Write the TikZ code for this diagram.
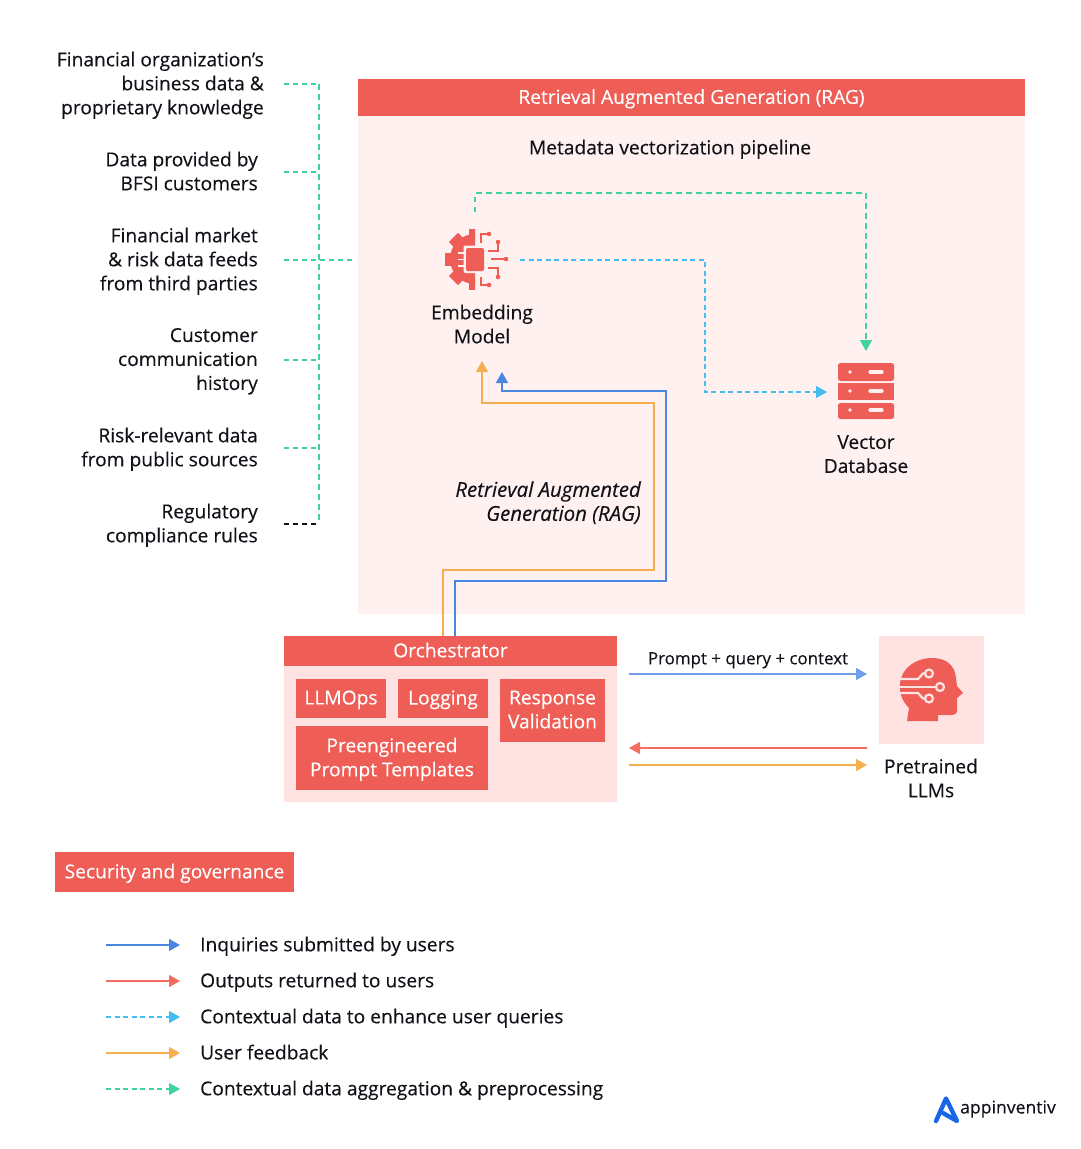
\documentclass[tikz,border=0pt]{standalone}
\usepackage{fontspec}
\setmainfont{Open Sans}[FakeBold=0.25]
\usepackage{xcolor}
\usetikzlibrary{calc}
\usetikzlibrary{positioning}
\usetikzlibrary{arrows.meta}
\definecolor{redmain}{HTML}{EF5D57}
\definecolor{palepanel}{HTML}{FFF1F0}
\definecolor{palebox}{HTML}{FFE3E2}
\definecolor{greenline}{HTML}{3FD3A0}
\definecolor{cyanline}{HTML}{45BDF0}
\definecolor{blueline}{HTML}{4A86E0}
\definecolor{lightblue}{HTML}{6F9FE8}
\definecolor{orangeline}{HTML}{F5AE50}
\definecolor{coralline}{HTML}{F56C60}
\definecolor{inkcol}{HTML}{111118}
\definecolor{logoblue}{HTML}{1A66E8}
\begin{document}
\begin{tikzpicture}[x=1pt,y=-1pt,
      font=\fontsize{19.2}{24}\selectfont,text=inkcol,
      every node/.append style={text depth=2pt},
      src style/.style={align=right,inner sep=0pt,anchor=east},
      lab style/.style={align=center,inner sep=0pt},
      block style/.style={fill=redmain,text=white,align=center,inner sep=0pt,outer sep=0pt,anchor=north west},
      panel style/.style={fill=#1,inner sep=0pt,anchor=north west},
      key style/.style={inner sep=0pt,anchor=west},
      greendash/.style={draw=greenline,line width=1.5pt,dash pattern=on 5pt off 4pt},
      cyandash/.style={draw=cyanline,line width=1.4pt,dash pattern=on 5pt off 3.5pt},
      tip style/.style={-{Triangle[length=11pt,width=12pt]}}
      ]
      \useasboundingbox (0,0) rectangle (1080,1149);
      \node[panel style=palepanel,minimum width=667pt,minimum height=535pt] (ragpanel) at (358,79) {};
      \node[block style,minimum width=667pt,minimum height=37pt] (raghead) at (358,79) {Retrieval Augmented Generation (RAG)};
      \node[lab style] (pipeline) at (670,148) {Metadata vectorization pipeline};
      \node[src style] (srcorg) at (264,84) {Financial organization's\\business data \&\\proprietary knowledge};
      \node[src style] (srcbfsi) at (258,172) {Data provided by\\BFSI customers};
      \node[src style] (srcfeeds) at (258,260) {Financial market\\\& risk data feeds\\from third parties};
      \node[src style] (srccomm) at (258,360) {Customer\\communication\\history};
      \node[src style] (srcrisk) at (258,448) {Risk-relevant data\\from public sources};
      \node[src style] (srcrules) at (258,524) {Regulatory\\compliance rules};
      \coordinate (bustop) at (319,84);
      \coordinate (busbfsi) at (319,172);
      \coordinate (busfeeds) at (319,260);
      \coordinate (buscomm) at (319,360);
      \coordinate (busrisk) at (319,448);
      \coordinate (busend) at (319,524);
      \coordinate (ragin) at (356,260);
      \draw[greendash,dash pattern=on 5.5pt off 4.5pt] (bustop) -- (busend);
      \draw[greendash,shorten <=20pt] (srcorg.east |- bustop) -- (bustop);
      \draw[greendash,shorten <=26pt] (srcbfsi.east |- busbfsi) -- (busbfsi);
      \draw[greendash,shorten <=26pt] (srcfeeds.east |- ragin) -- (ragin);
      \draw[greendash,shorten <=26pt] (srccomm.east |- buscomm) -- (buscomm);
      \draw[greendash,shorten <=26pt] (srcrisk.east |- busrisk) -- (busrisk);
      \draw[greendash,draw=inkcol,shorten <=26pt] (srcrules.east |- busend) -- (busend);
      % embedding icon
      \coordinate (gearc) at (475,259);
      \begin{scope}
        \clip (440,225) rectangle (475,295);
        \fill[redmain] (gearc) circle (25);
        \foreach \a in {90,135,180,225,270}
          \fill[redmain,rotate around={\a:(gearc)}] ($(gearc)+(20,-6.5)$) rectangle ($(gearc)+(30.5,6.5)$);
      \end{scope}
      \fill[palepanel,rounded corners=2pt] (463.5,245.5) rectangle (486,273);
      \fill[redmain,rounded corners=1.5pt] (466,248) rectangle (484,271);
      \foreach \py in {253,259.5,266}
        \draw[palepanel,line width=1.3pt] (458,\py) -- (465,\py);
      \begin{scope}[draw=redmain,line width=1.2pt]
        \draw (481,243) -- (481,234) -- (489,234);
        \draw (488,251) -- (498,251) -- (498,242);
        \draw (491,259) -- (506,259);
        \draw (488,268) -- (498,268) -- (498,277);
        \draw (481,277) -- (481,285) -- (489,285);
      \end{scope}
      \foreach \dx/\dy in {489/234,498/242,506/259,498/277,489/285}
        \fill[redmain] (\dx,\dy) circle (2.3);
      \node[lab style] (embed) at (482,325) {Embedding\\Model};
      \coordinate (embedout) at (520,260);
      \coordinate (embedtop) at (475,212);
      \coordinate (cyanturn) at (705,260);
      \coordinate (greenturn) at (866,193);
      % database icon
      \fill[redmain,rounded corners=2.5pt] (838,363) rectangle (894,381);
      \fill[redmain] (838,383) rectangle (894,400);
      \fill[redmain,rounded corners=2.5pt] (838,403) rectangle (894,419);
      \foreach \py in {372,391,410} {
        \fill[palepanel] (850,\py) circle (1.8);
        \draw[palepanel,line width=3.2pt,line cap=round] (870,\py) -- (882,\py);
      }
      \node[lab style] (vectordb) at (866,455) {Vector\\Database};
      \coordinate (dbtop) at (866,351);
      \coordinate (dbleft) at (827,392);
      \draw[greendash,dash pattern=on 5.5pt off 4.5pt,tip style] (embedtop) -- (embedtop |- greenturn) -- (greenturn) -- (dbtop);
      \draw[cyandash,tip style] (embedout) -- (cyanturn) -- (cyanturn |- dbleft) -- (dbleft);
      \node[lab style,font=\fontsize{20.4}{24}\selectfont\itshape,align=right,anchor=east] (raglabel) at (641,502) {Retrieval Augmented\\Generation (RAG)};
      % orchestrator
      \node[panel style=palebox,minimum width=333pt,minimum height=166pt] (orchpanel) at (284,636) {};
      \node[block style,minimum width=333pt,minimum height=30pt] (orchhead) at (284,636) {Orchestrator};
      \node[block style,minimum width=90pt,minimum height=39pt] (llmops) at (296,679) {LLMOps};
      \node[block style,minimum width=90pt,minimum height=39pt,right=12pt of llmops.north east,anchor=north west] (logging) {Logging};
      \node[block style,minimum width=105pt,minimum height=63pt,right=12pt of logging.north east,anchor=north west] (validation) {Response\\Validation};
      \node[block style,minimum width=192pt,minimum height=64pt] (templates) at (296,726) {Preengineered\\Prompt Templates};
      \coordinate (orangeout) at (443,636);
      \coordinate (blueout) at (455,636);
      \coordinate (orangetip) at (482,361);
      \coordinate (bluetip) at (502,372);
      \draw[draw=orangeline,line width=1.6pt,tip style] (orangeout) -- (443,570) -- (654,570) -- (654,403) -- (482,403) -- (orangetip);
      \draw[draw=blueline,line width=1.6pt,tip style] (blueout) -- (455,581) -- (666,581) -- (666,391) -- (502,391) -- (bluetip);
      % llm box
      \node[panel style=palebox,minimum width=105pt,minimum height=108pt] (llmbox) at (879,636) {};
      \fill[redmain] (907,721) -- (909,708) .. controls (903,702) and (899,694) .. (900,684)
        .. controls (901,668) and (916,658) .. (932,658)
        .. controls (947,658) and (955,666) .. (956,678)
        -- (957,686) -- (963,693) -- (957,698) -- (957,710)
        .. controls (957,714) and (955,715) .. (952,715) -- (938,715) -- (938,721) -- cycle;
      \begin{scope}[draw=palebox,line width=2.2pt]
        \draw (899,679) -- (918,679) -- (923,673.5) -- (925,673.5);
        \draw (899,687) -- (936,687);
        \draw (899,693) -- (918,693) -- (923,698.5) -- (925,698.5);
        \draw[fill=redmain] (929,673.5) circle (4);
        \draw[fill=redmain] (940,687) circle (4);
        \draw[fill=redmain] (929,698.5) circle (4);
      \end{scope}
      \node[lab style] (llmname) at (931,779) {Pretrained\\LLMs};
      \coordinate (promptfrom) at (629,674);
      \coordinate (promptto) at (867,674);
      \coordinate (replyfrom) at (867,748);
      \coordinate (replyto) at (629,748);
      \coordinate (feedfrom) at (629,765);
      \coordinate (feedto) at (867,765);
      \draw[draw=lightblue,line width=1.4pt,tip style] (promptfrom) -- node[above=7pt,inner sep=0pt,font=\fontsize{16.9}{20}\selectfont] (promptlab) {Prompt + query + context} (promptto);
      \draw[draw=coralline,line width=1.4pt,tip style] (replyfrom) -- (replyto);
      \draw[draw=orangeline,line width=1.4pt,tip style] (feedfrom) -- (feedto);
      % legend
      \node[block style,minimum width=239pt,minimum height=40pt] (security) at (55,852) {Security and governance};
      \coordinate (keyastart) at (106,945);
      \coordinate (keyaend) at (180,945);
      \coordinate (keybstart) at (106,981);
      \coordinate (keybend) at (180,981);
      \coordinate (keycstart) at (106,1017);
      \coordinate (keycend) at (180,1017);
      \coordinate (keydstart) at (106,1053);
      \coordinate (keydend) at (180,1053);
      \coordinate (keyestart) at (106,1089);
      \coordinate (keyeend) at (180,1089);
      \node[key style,right=20pt of keyaend] (keya) {Inquiries submitted by users};
      \node[key style,right=20pt of keybend] (keyb) {Outputs returned to users};
      \node[key style,right=20pt of keycend] (keyc) {Contextual data to enhance user queries};
      \node[key style,right=20pt of keydend] (keyd) {User feedback};
      \node[key style,right=20pt of keyeend] (keye) {Contextual data aggregation \& preprocessing};
      \draw[draw=blueline,line width=1.4pt,tip style] (keyastart) -- (keyaend);
      \draw[draw=coralline,line width=1.4pt,tip style] (keybstart) -- (keybend);
      \draw[cyandash,tip style] (keycstart) -- (keycend);
      \draw[draw=orangeline,line width=1.4pt,tip style] (keydstart) -- (keydend);
      \draw[greendash,line width=1.4pt,dash pattern=on 5pt off 3.5pt,tip style] (keyestart) -- (keyeend);
      % logo
      \draw[logoblue,line width=4.4pt,line join=round,line cap=round] (936,1121) -- (946,1098.5) -- (957,1121) -- (943,1113);
      \node[inner sep=0pt,anchor=west,font=\fontsize{17.6}{24}\selectfont] (logotext) at (960,1108) {appinventiv};
    \end{tikzpicture}
\end{document}
